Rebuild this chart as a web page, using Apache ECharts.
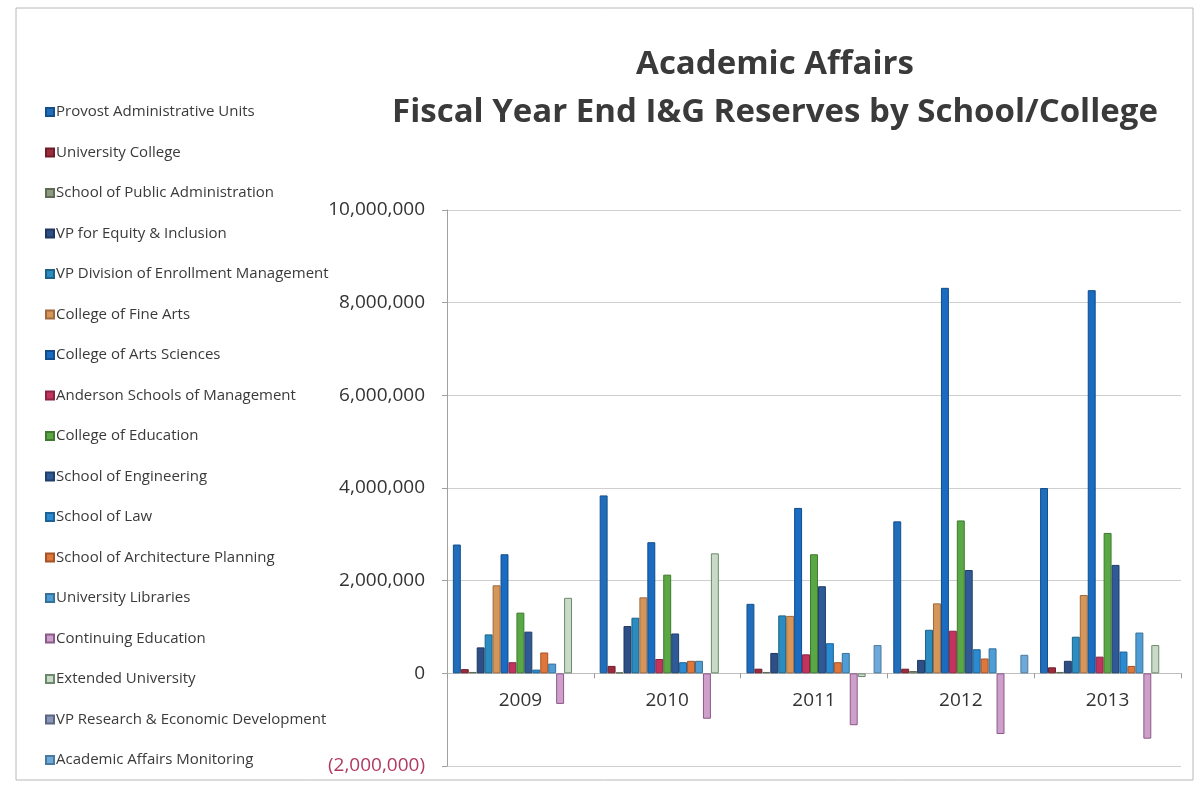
<!DOCTYPE html>
<html>
<head>
<meta charset="utf-8">
<script src="https://cdn.jsdelivr.net/npm/echarts@6/dist/echarts.min.js"></script>
<style>
  html, body { margin: 0; padding: 0; background: #fff; }
  #chart { width: 1199px; height: 787px; }
</style>
</head>
<body>
<div id="chart"></div>
<script>
// fiscal years on the x axis
const years = ['2009', '2010', '2011', '2012', '2013'];

// unit names, in legend order
const units = [
  'Provost Administrative Units',
  'University College',
  'School of Public Administration',
  'VP for Equity & Inclusion',
  'VP Division of Enrollment Management',
  'College of Fine Arts',
  'College of Arts Sciences',
  'Anderson Schools of Management',
  'College of Education',
  'School of Engineering',
  'School of Law',
  'School of Architecture Planning',
  'University Libraries',
  'Continuing Education',
  'Extended University',
  'VP Research & Economic Development',
  'Academic Affairs Monitoring'
];

// reserves per unit, 2009..2013
const provost      = [2780000, 3840000, 1500000, 3280000, 4000000];
const univCollege  = [90000, 160000, 100000, 100000, 130000];
const publicAdmin  = [30000, 20000, 30000, 50000, 30000];
const vpEquity     = [560000, 1020000, 440000, 290000, 270000];
const vpEnrollment = [840000, 1200000, 1250000, 940000, 790000];
const fineArts     = [1900000, 1640000, 1240000, 1510000, 1690000];
const artsSciences = [2570000, 2830000, 3570000, 8320000, 8270000];
const anderson     = [240000, 310000, 410000, 920000, 360000];
const education    = [1310000, 2130000, 2570000, 3300000, 3030000];
const engineering  = [900000, 860000, 1880000, 2230000, 2340000];
const law          = [80000, 240000, 650000, 520000, 470000];
const architecture = [450000, 270000, 240000, 320000, 160000];
const libraries    = [210000, 270000, 440000, 540000, 880000];
const continuing   = [-660000, -980000, -1120000, -1310000, -1410000];
const extended     = [1630000, 2590000, -80000, 0, 610000];
const vpResearch   = [0, 0, 0, 0, 0];
const aaMonitoring = [0, 0, 610000, 400000, 0];

const values = [provost, univCollege, publicAdmin, vpEquity, vpEnrollment, fineArts,
  artsSciences, anderson, education, engineering, law, architecture, libraries,
  continuing, extended, vpResearch, aaMonitoring];

const fills = ['#1f6dbb', '#9c2b3c', '#8d9c80', '#2d4f86', '#2a8cc0', '#d6965a',
  '#1a6cc2', '#c2345e', '#5aa845', '#2f5a95', '#2b8bd2', '#e0773a',
  '#4f9dd4', '#cf9fcb', '#c9dac9', '#8a96b8', '#6fa9d9'];
const edges = ['#15508c', '#6e1e2a', '#5f6c55', '#1f3660', '#1c6288', '#9e6a3e',
  '#124c8a', '#8a2442', '#3f7a30', '#203f6a', '#1d6296', '#a45428',
  '#36719a', '#8a5a88', '#6b8a6b', '#5c6680', '#4a7aa0'];

const chart = echarts.init(document.getElementById('chart'));

const fmt = v => Math.abs(v).toLocaleString('en-US');

chart.setOption({
  animation: false,
  textStyle: { fontFamily: 'Open Sans' },
  graphic: [{
    type: 'rect', silent: true,
    shape: { x: 16, y: 8, width: 1177, height: 772 },
    style: { fill: 'none', stroke: '#b8b8b8', lineWidth: 1 }
  }],
  title: {
    text: 'Academic Affairs\nFiscal Year End I&G Reserves by School/College',
    left: 770, top: 36, textAlign: 'center',
    textStyle: { fontSize: 33, fontWeight: 'bold', color: '#3a3a3a', lineHeight: 48, fontFamily: 'Open Sans' }
  },
  legend: {
    orient: 'vertical', left: 40, top: 99,
    itemWidth: 8, itemHeight: 8, itemGap: 24.5,
    icon: 'rect',
    textStyle: { fontSize: 15, color: '#3a3a3a', lineHeight: 16, padding: [0, 0, 0, -3] },
    data: units
  },
  grid: { left: 447, right: 18, top: 210, bottom: 21, outerBoundsMode: 'none', containLabel: false },
  xAxis: [{
    type: 'category', data: years,
    axisLine: { onZero: true, lineStyle: { color: '#bdbdbd' } },
    axisTick: { show: true, length: 5, lineStyle: { color: '#9a9a9a' } },
    axisLabel: { show: false }
  }, {
    // second copy only for the year labels, sitting just under the zero line
    type: 'category', data: years, position: 'bottom', offset: -93,
    axisLine: { show: false }, axisTick: { show: false },
    axisLabel: { fontSize: 19, color: '#333', margin: 18 }
  }],
  yAxis: {
    type: 'value', min: -2000000, max: 10000000, interval: 2000000,
    axisLine: { show: true, lineStyle: { color: '#a0a0a0' } },
    axisTick: { show: true, length: 5, lineStyle: { color: '#a0a0a0' } },
    splitLine: { lineStyle: { color: '#cfcfcf' } },
    axisLabel: {
      fontSize: 19, color: '#333', margin: 22,
      formatter: v => v < 0 ? '{neg|(' + fmt(v) + ')}' : fmt(v),
      rich: { neg: { fontSize: 19, color: '#b03a62' } }
    }
  },
  series: units.map((name, i) => ({
    name, type: 'bar',
    // zero-height bars get no edge, so they leave no stray line on the axis
    data: values[i].map(v => v === 0 ? { value: 0, itemStyle: { borderWidth: 0 } } : v),
    barGap: '0%', barCategoryGap: '8%',
    itemStyle: { color: fills[i], borderColor: edges[i], borderWidth: 1 }
  }))
});
</script>
</body>
</html>
